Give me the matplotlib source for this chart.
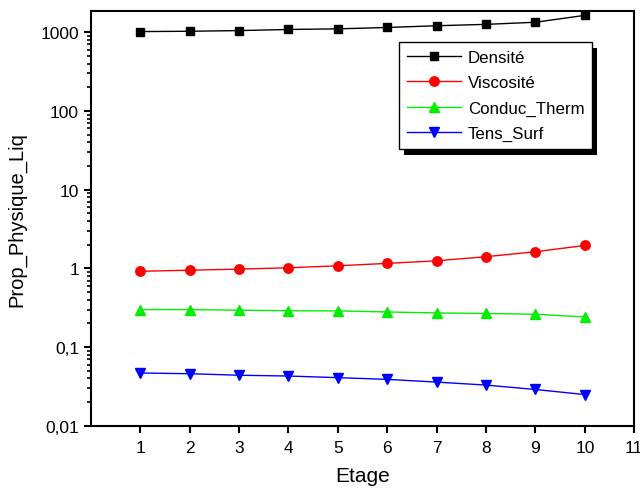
import matplotlib
matplotlib.use('Agg')
import matplotlib.pyplot as plt
from matplotlib.patches import Rectangle
from matplotlib.ticker import FixedLocator, FuncFormatter, LogLocator, NullFormatter

plt.rcParams['font.family'] = ['Liberation Sans', 'DejaVu Sans']

etage = [1, 2, 3, 4, 5, 6, 7, 8, 9, 10]
densite = [1020, 1030, 1050, 1085, 1105, 1150, 1210, 1260, 1340, 1640]
viscosite = [0.92, 0.95, 0.98, 1.02, 1.08, 1.16, 1.25, 1.41, 1.63, 1.96]
conduc_therm = [0.30, 0.30, 0.295, 0.29, 0.289, 0.28, 0.272, 0.268, 0.262, 0.242]
tens_surf = [0.047, 0.046, 0.044, 0.043, 0.041, 0.039, 0.036, 0.033, 0.029, 0.025]

x_ticks = [1, 2, 3, 4, 5, 6, 7, 8, 9, 10, 11]
y_ticks = [0.01, 0.1, 1, 10, 100, 1000]


def comma_fmt(v, pos):
    # french style decimal separator
    s = f'{v:g}'
    return s.replace('.', ',')


fig = plt.figure(figsize=(6.4, 4.89), dpi=100)
ax = fig.add_axes([0.142, 0.127, 0.849, 0.848])

ax.plot(etage, densite, '-s', color='black', lw=1, markersize=6, label='Densité')
ax.plot(etage, viscosite, '-o', color='red', lw=1, markersize=6.8, label='Viscosité')
ax.plot(etage, conduc_therm, '-^', color='#00ee00', lw=1, markersize=7.5, label='Conduc_Therm')
ax.plot(etage, tens_surf, '-v', color='blue', lw=1, markersize=7.5, label='Tens_Surf')

ax.set_yscale('log')
ax.set_xlim(0, 11)
ax.set_ylim(0.01, 1850)
ax.xaxis.set_major_locator(FixedLocator(x_ticks))
ax.yaxis.set_major_locator(FixedLocator(y_ticks))
ax.yaxis.set_major_formatter(FuncFormatter(comma_fmt))
ax.yaxis.set_minor_locator(LogLocator(base=10, subs=range(2, 10), numticks=20))
ax.yaxis.set_minor_formatter(NullFormatter())

for side in ['left', 'bottom', 'right', 'top']:
    ax.spines[side].set_linewidth(1.5)
ax.tick_params(which='major', direction='out', length=5, width=1.5, labelsize=12.5)
ax.tick_params(axis='x', which='major', pad=5)
ax.tick_params(which='minor', direction='out', length=3, width=1.2)

ax.set_xlabel('Etage', fontsize=15, labelpad=8)
ax.set_ylabel('Prop_Physique_Liq', fontsize=14.5, labelpad=4)
ax.yaxis.set_label_coords(-0.118, 0.5)

leg = ax.legend(loc='upper right', bbox_to_anchor=(592 / 640, (489 - 43) / 489),
                bbox_transform=fig.transFigure, borderaxespad=0, fontsize=12.2,
                fancybox=False, framealpha=1, edgecolor='black',
                handlelength=3.2, labelspacing=0.62, borderpad=0.45,
                handletextpad=0.4)
leg.get_frame().set_linewidth(1)

# solid black drop shadow, offset like the original
fig.canvas.draw()
bb = leg.get_window_extent().transformed(fig.transFigure.inverted())
shadow = Rectangle((bb.x0 + 5 / 640, bb.y0 - 6 / 489), bb.width, bb.height,
                   transform=fig.transFigure, facecolor='black', edgecolor='none',
                   zorder=leg.get_zorder() - 0.1)
ax.add_artist(shadow)
shadow.set_clip_on(False)

fig.savefig('out.png', dpi=100)
